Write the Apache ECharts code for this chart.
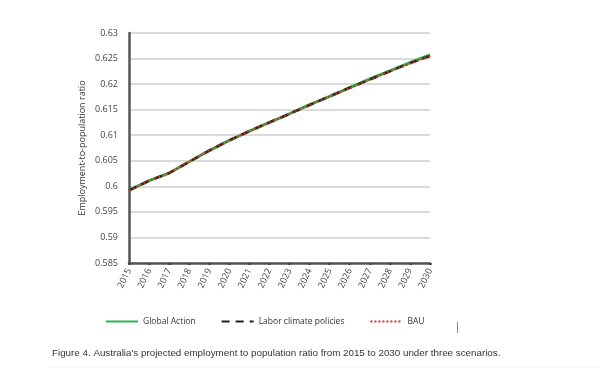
<!DOCTYPE html>
<html>
<head>
<meta charset="utf-8">
<script src="https://cdn.jsdelivr.net/npm/echarts@6/dist/echarts.min.js"></script>
<style>
  html, body { margin: 0; padding: 0; background: #fff; }
  #chart { width: 600px; height: 377px; }
</style>
</head>
<body>
<div id="chart"></div>
<script>
var years = ['2015', '2016', '2017', '2018', '2019', '2020', '2021', '2022',
             '2023', '2024', '2025', '2026', '2027', '2028', '2029', '2030'];
var globalAction = [0.5992, 0.6011, 0.6026, 0.6048, 0.6070, 0.6090, 0.6108, 0.6125,
                    0.6142, 0.6160, 0.6176, 0.6193, 0.6210, 0.6226, 0.6242, 0.6257];
var laborPolicies = [0.5992, 0.6011, 0.6026, 0.6048, 0.6070, 0.6090, 0.6108, 0.6125,
                     0.6142, 0.6159, 0.6176, 0.6193, 0.6209, 0.6225, 0.6241, 0.6255];
var bau = [0.5992, 0.6011, 0.6026, 0.6048, 0.6070, 0.6090, 0.6108, 0.6125,
           0.6142, 0.6159, 0.6176, 0.6192, 0.6209, 0.6225, 0.6240, 0.6255];

var chartDom = document.getElementById('chart');
var myChart = echarts.init(chartDom);
var option;

var tickFont = '"Open Sans", sans-serif';

option = {
    animation: false,
    grid: {
        left: 129,
        right: 170,
        top: 33,
        bottom: 114
    },
    legend: {
        left: 100,
        top: 312,
        itemWidth: 32,
        itemHeight: 10,
        itemGap: 25,
        itemStyle: { opacity: 0 },
        textStyle: {
            color: '#333',
            fontSize: 8.5,
            fontFamily: tickFont
        },
        data: ['Global Action', 'Labor climate policies', 'BAU']
    },
    xAxis: {
        type: 'category',
        boundaryGap: false,
        data: years,
        axisLine: {
            show: true,
            lineStyle: { color: '#555', width: 2.5 }
        },
        axisTick: {
            show: true,
            alignWithLabel: true,
            length: 2,
            lineStyle: { color: '#444', width: 2.5 }
        },
        axisLabel: {
            rotate: 65,
            color: '#444',
            fontSize: 9,
            fontFamily: tickFont,
            margin: 6
        },
        splitLine: { show: false }
    },
    yAxis: {
        type: 'value',
        min: 0.585,
        max: 0.63,
        interval: 0.005,
        name: 'Employment-to-population ratio',
        nameLocation: 'middle',
        nameGap: 42,
        nameMoveOverlap: false,
        nameRotate: 90,
        nameTextStyle: {
            color: '#333',
            fontSize: 9,
            fontFamily: tickFont
        },
        axisLine: {
            show: true,
            lineStyle: { color: '#555', width: 2.5 }
        },
        axisTick: { show: false },
        axisLabel: {
            color: '#444',
            fontSize: 9,
            fontFamily: tickFont,
            margin: 11,
            formatter: function (v) {
                return String(parseFloat(v.toFixed(3)));
            }
        },
        splitLine: {
            show: true,
            lineStyle: { color: '#cfcfcf', width: 1.5 }
        }
    },
    series: [
        {
            name: 'Global Action',
            type: 'line',
            data: globalAction,
            symbol: 'none',
            lineStyle: { color: '#2db34a', width: 3 },
            itemStyle: { color: '#2db34a' },
            z: 2
        },
        {
            name: 'Labor climate policies',
            type: 'line',
            data: laborPolicies,
            symbol: 'none',
            lineStyle: { color: '#222', width: 2.5, type: [8, 6] },
            itemStyle: { color: '#222' },
            z: 3
        },
        {
            name: 'BAU',
            type: 'line',
            data: bau,
            symbol: 'none',
            lineStyle: { color: '#d42a2a', width: 2, type: [2, 2] },
            itemStyle: { color: '#d42a2a' },
            z: 4
        }
    ],
    graphic: [
        {
            type: 'text',
            left: 52,
            top: 348,
            style: {
                text: "Figure 4. Australia's projected employment to population ratio from 2015 to 2030 under three scenarios.",
                fill: '#333',
                font: '9.8px "Liberation Sans", Arial, sans-serif'
            }
        },
        {
            type: 'line',
            shape: { x1: 50, y1: 367, x2: 600, y2: 367 },
            style: { stroke: '#eeeeee', lineWidth: 1 }
        },
        {
            type: 'line',
            shape: { x1: 457.5, y1: 322, x2: 457.5, y2: 333 },
            style: { stroke: '#888', lineWidth: 1 }
        }
    ]
};

option && myChart.setOption(option);
window.addEventListener('resize', function () {
    myChart.resize();
});
</script>
</body>
</html>
